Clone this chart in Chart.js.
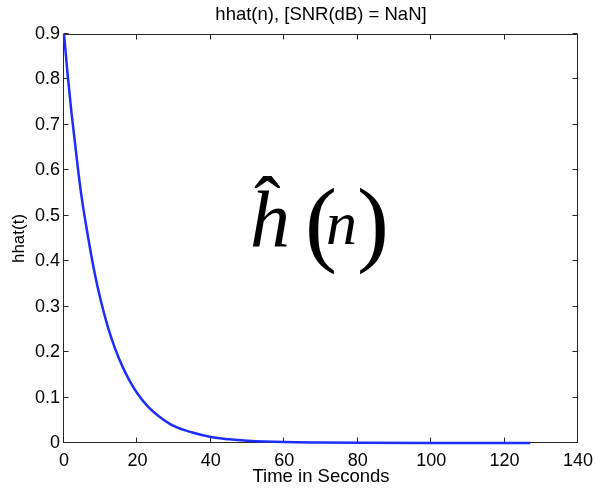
<!DOCTYPE html>
<html>
<head>
<meta charset="utf-8">
<script src="https://cdn.jsdelivr.net/npm/chart.js@4.4.0/dist/chart.umd.min.js"></script>
<style>
html, body { margin: 0; padding: 0; background: #fff; }
canvas { display: block; }
</style>
</head>
<body>
<canvas id="myChart" width="595" height="488"></canvas>
<script>
// values
let timeSec = [0, 1, 2, 3, 4, 5, 6, 8, 10, 12, 14, 16, 18, 20, 23, 26, 30, 35, 40, 45, 50, 60, 70, 80, 100, 127];
let hhat = [0.90, 0.81, 0.73, 0.66, 0.59, 0.53, 0.48, 0.388, 0.314, 0.254, 0.206, 0.167, 0.135, 0.109, 0.079, 0.058, 0.037, 0.023, 0.013, 0.008, 0.005, 0.002, 0.001, 0.0005, 0, 0];
let xTicks = [0, 20, 40, 60, 80, 100, 120, 140];
let yTicks = [0, 0.1, 0.2, 0.3, 0.4, 0.5, 0.6, 0.7, 0.8, 0.9];
let titleText = 'hhat(n), [SNR(dB) = NaN]';
let xLabel = 'Time in Seconds';
let yLabel = 'hhat(t)';

const SANS = '"Liberation Sans", Arial, Helvetica, sans-serif';
const SERIF = '"Liberation Serif", "Times New Roman", serif';

// matlab style box with inward ticks (under the line), then the big math label on top
const boxAndMath = {
  id: 'boxAndMath',
  beforeDatasetsDraw(chart) {
    let ctx = chart.ctx;
    let a = chart.chartArea;
    let sx = chart.scales.x, sy = chart.scales.y;
    ctx.save();
    ctx.strokeStyle = '#262626';
    ctx.lineWidth = 1;
    let L = a.left - 0.5, R = a.right - 0.5, T = a.top + 0.5, B = a.bottom - 0.5;
    ctx.strokeRect(L, T, R - L, B - T);
    ctx.beginPath();
    sx.ticks.forEach(t => {
      let px = Math.round(sx.getPixelForValue(t.value)) - 0.5;
      ctx.moveTo(px, B); ctx.lineTo(px, B - 5);
      ctx.moveTo(px, T); ctx.lineTo(px, T + 5);
    });
    sy.ticks.forEach(t => {
      let py = Math.round(sy.getPixelForValue(t.value)) - 0.5;
      ctx.moveTo(L, py); ctx.lineTo(L + 5, py);
      ctx.moveTo(R, py); ctx.lineTo(R - 5, py);
    });
    ctx.stroke();
    ctx.restore();
  },
  afterDatasetsDraw(chart) {
    let ctx = chart.ctx;
    ctx.save();
    // h-hat(n)
    ctx.fillStyle = '#000';
    ctx.textBaseline = 'alphabetic';
    ctx.textAlign = 'left';
    ctx.font = 'italic 80px ' + SERIF;
    ctx.fillText('h', 250, 246);
    ctx.font = '80px ' + SERIF;
    ctx.fillText('\u02C6', 254, 232);
    ctx.font = '96px ' + SERIF;
    ctx.fillText('(', 305, 254);
    ctx.fillText(')', 357, 254);
    ctx.font = 'italic 62px ' + SERIF;
    ctx.fillText('n', 326, 244);
    ctx.restore();
  }
};

let ctx = document.getElementById('myChart').getContext('2d');
let myChart = new Chart(ctx, {
  type: 'line',
  data: {
    datasets: [{
      label: 'hhat',
      data: timeSec.map((t, i) => ({ x: t, y: hhat[i] })),
      borderColor: 'rgb(30, 45, 250)',
      borderWidth: 2.5,
      pointRadius: 0,
      fill: false,
      cubicInterpolationMode: 'monotone',
      clip: 4
    }]
  },
  options: {
    responsive: false,
    animation: false,
    layout: { padding: { left: 0, right: 17, top: 0, bottom: 0 } },
    plugins: {
      legend: { display: false },
      tooltip: { enabled: false }
    },
    scales: {
      x: {
        type: 'linear',
        min: 0,
        max: 140,
        afterBuildTicks: s => { s.ticks = xTicks.map(v => ({ value: v })); },
        afterFit: s => { s.height = 45; s.paddingRight = 10; s.paddingLeft = 0; },
        grid: { display: false, drawTicks: false },
        border: { display: false },
        ticks: { color: '#000', padding: 7, maxRotation: 0, font: { family: SANS, size: 18 } },
        title: {
          display: true, text: xLabel, color: '#000',
          font: { family: SANS, size: 18.5 },
          padding: { top: 0, bottom: 0 }
        }
      },
      // top axis only carries the title so it centres over the plot box
      top: {
        type: 'linear',
        position: 'top',
        min: 0,
        max: 140,
        afterFit: s => { s.height = 34; s.paddingRight = 0; s.paddingLeft = 0; },
        grid: { display: false, drawTicks: false },
        border: { display: false },
        ticks: { display: false },
        title: {
          display: true, text: titleText, color: '#000',
          font: { family: SANS, size: 18.5 },
          padding: { top: 4, bottom: 0 }
        }
      },
      y: {
        type: 'linear',
        min: 0,
        max: 0.9,
        afterBuildTicks: s => { s.ticks = yTicks.map(v => ({ value: v })); },
        afterFit: s => { s.width = 64; },
        grid: { display: false, drawTicks: false },
        border: { display: false },
        ticks: { color: '#000', padding: 4, font: { family: SANS, size: 18 } },
        title: {
          display: true, text: yLabel, color: '#000',
          font: { family: SANS, size: 17 },
          padding: { top: 9, bottom: 0 }
        }
      }
    }
  },
  plugins: [boxAndMath]
});
</script>
</body>
</html>
